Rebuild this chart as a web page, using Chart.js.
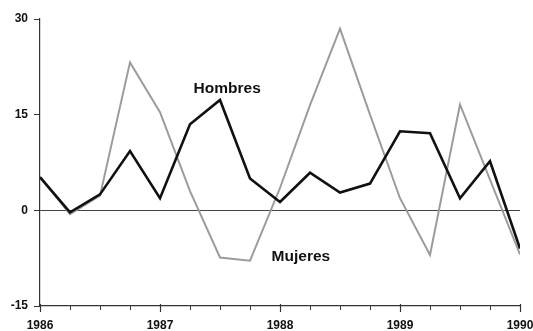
<!DOCTYPE html>
<html>
<head>
<meta charset="utf-8">
<script src="https://cdn.jsdelivr.net/npm/chart.js@4"></script>
<style>
  html, body { margin: 0; padding: 0; background: #fff; }
  #wrap { width: 533px; height: 331px; }
</style>
</head>
<body>
<div id="wrap"><canvas id="chart"></canvas></div>
<script>
const quarters = [1986, 1986.25, 1986.5, 1986.75, 1987, 1987.25, 1987.5, 1987.75,
                  1988, 1988.25, 1988.5, 1988.75, 1989, 1989.25, 1989.5, 1989.75, 1990];
const hombres = [5.2, -0.3, 2.5, 9.3, 1.9, 13.5, 17.3, 5.0,
                 1.3, 5.9, 2.8, 4.2, 12.4, 12.1, 1.9, 7.7, -6.0];
const mujeres = [5.2, -0.6, 2.3, 23.2, 15.4, 3.0, -7.4, -7.9,
                 3.5, 16.5, 28.5, 15.0, 1.9, -7.0, 16.6, 4.8, -6.9];
const yTicks = [-15, 0, 15, 30];
const yearTicks = [1986, 1987, 1988, 1989, 1990];

// series labels placed in data coordinates
const seriesLabels = [
    { text: 'Hombres', x: 1987.28, y: 19.0 },
    { text: 'Mujeres', x: 1987.93, y: -7.3 }
];

const toPoints = vals => vals.map((v, i) => ({ x: quarters[i], y: v }));

const labelFont = 'bold 15.5px "Liberation Sans", Arial, sans-serif';

const extras = {
    id: 'extras',
    afterDraw(chart) {
        const ctx = chart.ctx;
        const xs = chart.scales.x, ys = chart.scales.y;
        const base = ys.getPixelForValue(-15);
        ctx.save();
        // longer year ticks on the x axis
        ctx.strokeStyle = '#333';
        ctx.lineWidth = 1.2;
        yearTicks.forEach(yr => {
            const px = Math.round(xs.getPixelForValue(yr)) + 0.5;
            ctx.beginPath();
            ctx.moveTo(px, base - 2);
            ctx.lineTo(px, base + 6);
            ctx.stroke();
        });
        // series names
        ctx.fillStyle = '#111';
        ctx.font = labelFont;
        ctx.textAlign = 'left';
        ctx.textBaseline = 'middle';
        seriesLabels.forEach(l => {
            ctx.fillText(l.text, xs.getPixelForValue(l.x), ys.getPixelForValue(l.y));
        });
        ctx.restore();
    }
};

new Chart(document.getElementById('chart'), {
    type: 'line',
    data: {
        datasets: [
            {
                label: 'Hombres',
                data: toPoints(hombres),
                borderColor: '#111',
                borderWidth: 2.6,
                pointRadius: 0,
                tension: 0
            },
            {
                label: 'Mujeres',
                data: toPoints(mujeres),
                borderColor: '#9c9c9c',
                borderWidth: 2,
                pointRadius: 0,
                tension: 0
            }
        ]
    },
    options: {
        responsive: true,
        maintainAspectRatio: false,
        animation: false,
        layout: { padding: { top: 19, right: 0, left: 0, bottom: 0 } },
        plugins: {
            legend: { display: false },
            tooltip: { enabled: false }
        },
        scales: {
            x: {
                type: 'linear',
                min: 1986,
                max: 1990,
                afterBuildTicks: scale => {
                    scale.ticks = quarters.map(q => ({ value: q }));
                },
                grid: {
                    drawOnChartArea: false,
                    tickLength: 4,
                    tickColor: '#333',
                    tickWidth: 1
                },
                border: { display: true, color: '#333', width: 1.2 },
                ticks: {
                    autoSkip: false,
                    maxRotation: 0,
                    padding: 8,
                    color: '#111',
                    font: { family: '"Liberation Sans", Arial, sans-serif', size: 12, weight: 'bold' },
                    callback: v => (yearTicks.includes(v) ? String(v) : '')
                },
                afterFit: scale => {
                    scale.height = 25;
                    scale.paddingLeft = 0;
                    scale.paddingRight = 13;
                }
            },
            y: {
                min: -15,
                max: 30,
                afterBuildTicks: scale => {
                    scale.ticks = yTicks.map(v => ({ value: v }));
                },
                grid: {
                    color: c => (c.tick && c.tick.value === 0 ? '#444' : 'rgba(0,0,0,0)'),
                    lineWidth: 1,
                    tickColor: '#333',
                    tickLength: 6
                },
                border: { display: true, color: '#333', width: 1.2 },
                ticks: {
                    padding: 6,
                    color: '#111',
                    font: { family: '"Liberation Sans", Arial, sans-serif', size: 12, weight: 'bold' }
                },
                afterFit: scale => { scale.width = 40; }
            }
        }
    },
    plugins: [extras]
});
</script>
</body>
</html>
